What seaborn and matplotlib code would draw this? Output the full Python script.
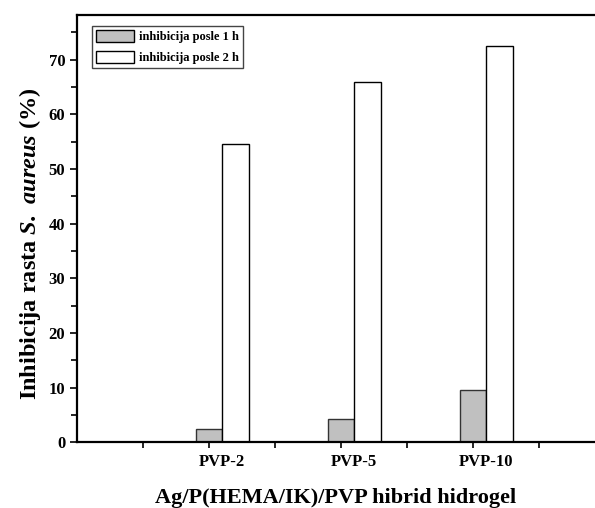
import pandas as pd
import matplotlib
matplotlib.use('Agg')
import matplotlib.pyplot as plt
import seaborn as sns
from matplotlib.patches import Patch

# data
uzorci = ['PVP-2', 'PVP-5', 'PVP-10']
pozicije = [2.2, 4.2, 6.2]
posle_1h = [2.5, 4.3, 9.6]
posle_2h = [54.6, 65.9, 72.6]
serije = ['inhibicija posle 1 h', 'inhibicija posle 2 h']
boje = ['#c0c0c0', '#ffffff']

df = pd.DataFrame({
    'x': pozicije * 2,
    'y': posle_1h + posle_2h,
    'serija': [serije[0]] * 3 + [serije[1]] * 3,
})

sns.set_style('ticks', {'axes.edgecolor': 'black', 'text.color': 'black',
                        'axes.labelcolor': 'black', 'xtick.color': 'black',
                        'ytick.color': 'black'})
plt.rcParams['font.family'] = ['Liberation Serif', 'DejaVu Serif']
plt.rcParams['font.weight'] = 'bold'
plt.rcParams['mathtext.fontset'] = 'custom'
plt.rcParams['mathtext.bfit'] = 'Liberation Serif:bold:italic'
plt.rcParams['mathtext.rm'] = 'Liberation Serif:bold'

fig = plt.figure(figsize=(5.95, 5.08), dpi=100)
ax = fig.add_axes([0.1294, 0.129, 0.8706, 0.8415])

sns.barplot(data=df, x='x', y='y', hue='serija', palette=boje, native_scale=True,
            width=0.4, dodge=True, edgecolor='black', linewidth=1.0, ax=ax, legend=False)
# gray bars get a dark gray edge
for p in ax.patches[:3]:
    p.set_edgecolor('#333333')

ax.set_xlim(0, 7.85)
ax.set_ylim(0, 78.2)

ax.set_xticks([1, 2, 3, 4, 5, 6, 7])
ax.set_xticklabels([])
ax.set_xticks(pozicije, minor=True)
ax.set_xticklabels(uzorci, minor=True, fontsize=12, fontweight='bold')
ax.tick_params(axis='x', which='minor', length=0, pad=8)
ax.tick_params(axis='x', which='major', direction='out', length=4, width=1.2)

ax.set_yticks(range(0, 71, 10))
ax.set_yticks(range(5, 78, 5), minor=True)
ax.tick_params(axis='y', which='major', direction='out', length=5, width=1.2, labelsize=12)
ax.tick_params(axis='y', which='minor', direction='out', length=4, width=1.2)
for t in ax.get_yticklabels():
    t.set_fontweight('bold')

for s in ['left', 'bottom', 'top']:
    ax.spines[s].set_linewidth(1.6)
ax.spines['right'].set_visible(False)

ax.set_xlabel('Ag/P(HEMA/IK)/PVP hibrid hidrogel', fontsize=16, fontweight='bold', labelpad=13)
ax.set_ylabel(r'Inhibicija rasta $\mathbfit{S.}$ $\mathbfit{aureus}$ (%)', fontsize=17.5,
              fontweight='bold')
ax.yaxis.set_label_coords(-0.066, 0.465)

ruke = [Patch(facecolor=boje[0], edgecolor='black', linewidth=1.0),
        Patch(facecolor=boje[1], edgecolor='black', linewidth=1.0)]
leg = ax.legend(ruke, serije, loc='upper left', bbox_to_anchor=(0.029, 0.975),
                borderaxespad=0,
                prop={'family': 'Liberation Serif', 'weight': 'bold', 'size': 9},
                handlelength=3.0, handleheight=1.1, labelspacing=0.6,
                handletextpad=0.4, borderpad=0.35, fancybox=False, framealpha=1,
                edgecolor='#444444')
leg.get_frame().set_linewidth(1.0)

fig.savefig('out.png', dpi=100)
